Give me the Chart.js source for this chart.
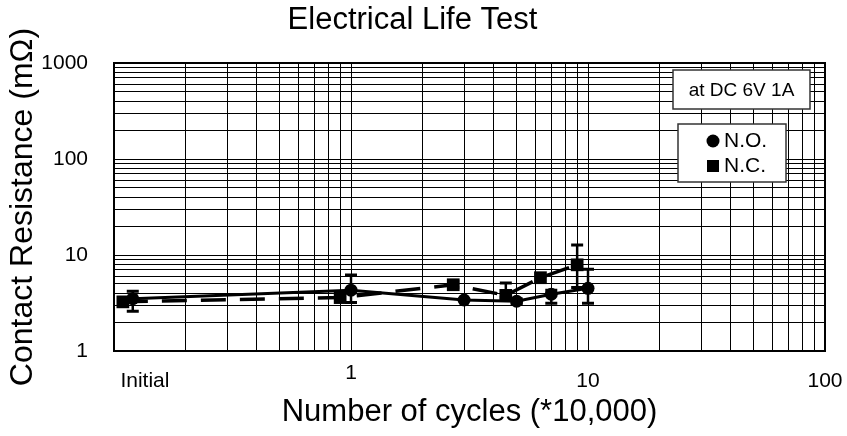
<!DOCTYPE html>
<html>
<head>
<meta charset="utf-8">
<script src="https://cdn.jsdelivr.net/npm/chart.js@4/dist/chart.umd.min.js"></script>
<style>
  html, body { margin: 0; padding: 0; background: #fff; }
  #wrap { width: 847px; height: 436px; position: relative; }
</style>
</head>
<body>
<div id="wrap"><canvas id="lifeChart"></canvas></div>
<script>
// values (x in *10,000 cycles, y in mOhm)
const noCycles = [0.12, 1, 3, 5, 7, 10];
const noValues = [3.5, 4.3, 3.4, 3.3, 3.9, 4.5];
const noHigh   = [4.2, 6.2, 3.4, 3.5, 4.3, 7.1];
const noLow    = [2.6, 3.2, 3.4, 3.1, 3.15, 3.15];

const ncCycles = [0.109, 0.9, 2.7, 4.5, 6.3, 9];
const ncValues = [3.25, 3.6, 4.9, 3.8, 5.8, 7.9];
const ncHigh   = [3.25, 3.6, 5.3, 5.1, 5.8, 12.7];
const ncLow    = [3.25, 3.6, 4.6, 3.6, 5.8, 4.6];

const xTickValues = [0.135, 1, 10, 100];
const xTickLabels = ['Initial', '1', '10', '100'];
const yTickValues = [1, 10, 100, 1000];
const yTickLabels = ['1', '10', '100', '1000'];

const FONT = "'Liberation Sans', Arial, sans-serif";
Chart.defaults.font.family = FONT;
Chart.defaults.color = '#000';

// log grid: 1..9 of every decade
function logGrid(min, max) {
    const out = [];
    for (let p = min; p < max; p *= 10) {
        for (let k = 1; k < 10; k++) out.push(Number((k * p).toPrecision(3)));
    }
    out.push(max);
    return out;
}

const errorBars = {
    id: 'errorBars',
    afterDatasetsDraw(chart) {
        const { ctx, scales: { x, y } } = chart;
        const sets = [
            [noCycles, noHigh, noLow],
            [ncCycles, ncHigh, ncLow]
        ];
        ctx.save();
        ctx.strokeStyle = '#000';
        sets.forEach(([xs, hi, lo]) => {
            xs.forEach((xv, i) => {
                if (hi[i] === lo[i]) return;
                const px = x.getPixelForValue(xv);
                const top = y.getPixelForValue(hi[i]);
                const bot = y.getPixelForValue(lo[i]);
                ctx.lineWidth = 2.5;
                ctx.beginPath();
                ctx.moveTo(px, top); ctx.lineTo(px, bot);
                ctx.stroke();
                ctx.lineWidth = 3;
                ctx.beginPath();
                ctx.moveTo(px - 6, top); ctx.lineTo(px + 6, top);
                ctx.moveTo(px - 6, bot); ctx.lineTo(px + 6, bot);
                ctx.stroke();
            });
        });
        ctx.restore();
    }
};

const frameAndNotes = {
    id: 'frameAndNotes',
    afterDraw(chart) {
        const { ctx, chartArea: a } = chart;
        ctx.save();
        ctx.strokeStyle = '#000';
        ctx.lineWidth = 2;
        ctx.strokeRect(a.left, a.top, a.right - a.left, a.bottom - a.top);

        // condition box
        ctx.fillStyle = '#fff';
        ctx.strokeStyle = '#333';
        ctx.lineWidth = 1.5;
        const bx = a.right - 152, by = a.top + 7, bw = 137, bh = 39;
        ctx.fillRect(bx, by, bw, bh);
        ctx.strokeRect(bx, by, bw, bh);
        ctx.fillStyle = '#000';
        ctx.font = '19px ' + FONT;
        ctx.textAlign = 'center';
        ctx.textBaseline = 'middle';
        ctx.fillText('at DC 6V 1A', bx + bw / 2, by + bh / 2 + 1);

        // legend box
        const lx = a.right - 147, ly = a.top + 61, lw = 108, lh = 58;
        ctx.fillStyle = '#fff';
        ctx.fillRect(lx, ly, lw, lh);
        ctx.strokeRect(lx, ly, lw, lh);
        ctx.fillStyle = '#000';
        ctx.beginPath();
        ctx.arc(lx + 35, ly + 17, 6.5, 0, Math.PI * 2);
        ctx.fill();
        ctx.fillRect(lx + 29, ly + 36, 12, 12);
        ctx.font = '21px ' + FONT;
        ctx.textAlign = 'left';
        ctx.fillText('N.O.', lx + 46, ly + 17);
        ctx.fillText('N.C.', lx + 46, ly + 42);
        ctx.restore();
    }
};

new Chart(document.getElementById('lifeChart'), {
    type: 'scatter',
    data: {
        datasets: [{
            label: 'N.O.',
            data: noCycles.map((c, i) => ({ x: c, y: noValues[i] })),
            showLine: true,
            borderColor: '#000',
            borderWidth: 3,
            pointStyle: 'circle',
            pointRadius: 6.5,
            pointBackgroundColor: '#000',
            pointBorderWidth: 0
        }, {
            label: 'N.C.',
            data: ncCycles.map((c, i) => ({ x: c, y: ncValues[i] })),
            showLine: true,
            borderColor: '#000',
            borderWidth: 3.5,
            borderDash: [25, 14],
            pointStyle: 'rect',
            pointRadius: 9,
            pointBackgroundColor: '#000',
            pointBorderWidth: 0
        }]
    },
    options: {
        responsive: true,
        maintainAspectRatio: false,
        animation: false,
        layout: { padding: { left: 0, right: 22, top: 0, bottom: 0 } },
        plugins: {
            legend: { display: false },
            tooltip: { enabled: false },
            title: {
                display: true,
                text: 'Electrical Life Test',
                font: { size: 31, weight: 'normal', lineHeight: 1 },
                color: '#000',
                padding: { top: 5, bottom: 27 }
            }
        },
        scales: {
            x: {
                type: 'logarithmic',
                min: 0.1,
                max: 100,
                afterFit(scale) {
                    scale.height = 85;
                    scale.paddingLeft = 0;
                    scale.paddingRight = 0;
                },
                afterBuildTicks(scale) {
                    const vals = logGrid(0.1, 100).concat(xTickValues).filter((v, i, arr) => arr.indexOf(v) === i);
                    vals.sort((p, q) => p - q);
                    scale.ticks = vals.map(v => ({ value: v }));
                },
                ticks: {
                    autoSkip: false,
                    maxRotation: 0,
                    padding: 18,
                    font: { size: 21, lineHeight: 8 / 21 },
                    color: '#000',
                    callback(value) {
                        const i = xTickValues.indexOf(value);
                        if (i < 0) return '';
                        return xTickLabels[i] === '1' ? '1' : ['', xTickLabels[i]];
                    }
                },
                grid: {
                    drawTicks: false,
                    lineWidth: 1,
                    color: ctx => (ctx.tick && ctx.tick.value === xTickValues[0]) ? 'rgba(0,0,0,0)' : '#000'
                },
                border: { display: true, color: '#000', width: 2 },
                title: {
                    display: true,
                    text: 'Number of cycles (*10,000)',
                    font: { size: 31 },
                    color: '#000',
                    padding: { top: 0, bottom: 5 }
                }
            },
            y: {
                type: 'logarithmic',
                min: 1,
                max: 1000,
                afterFit(scale) { scale.width = 114; },
                afterBuildTicks(scale) {
                    scale.ticks = logGrid(1, 1000).map(v => ({ value: v }));
                },
                ticks: {
                    autoSkip: false,
                    padding: 26,
                    font: { size: 21 },
                    color: '#000',
                    callback(value) {
                        const i = yTickValues.indexOf(value);
                        return i < 0 ? '' : yTickLabels[i];
                    }
                },
                grid: { drawTicks: false, lineWidth: 1, color: '#000' },
                border: { display: true, color: '#000', width: 2 },
                title: {
                    display: true,
                    text: 'Contact Resistance (mΩ)',
                    font: { size: 32 },
                    color: '#000',
                    padding: { top: 4, bottom: 0 }
                }
            }
        }
    },
    plugins: [errorBars, frameAndNotes]
});
</script>
</body>
</html>
